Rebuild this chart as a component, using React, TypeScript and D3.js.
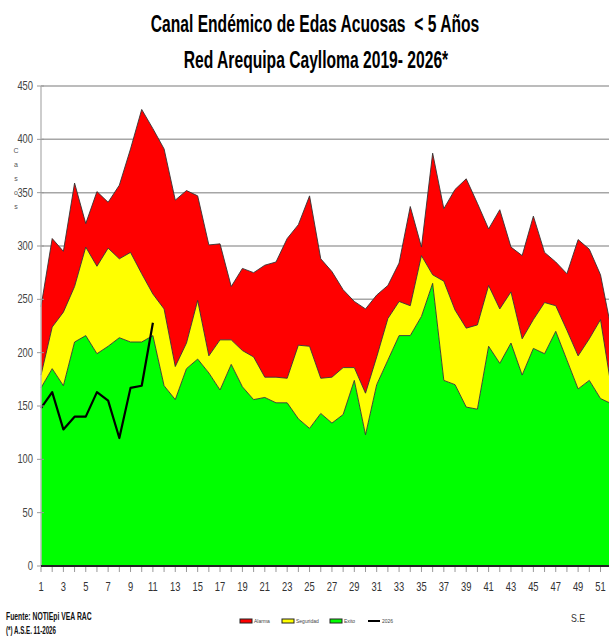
import React from 'react';
import * as d3 from 'd3';

// semanas epidemiologicas 1..52
const semanas = d3.range(1, 53);
const alarma = [243, 307, 295, 359, 321, 351, 341, 357, 391, 428, 410, 391, 343, 352, 347, 301, 302, 262, 279, 275, 282, 285, 307, 320, 347, 288, 276, 259, 248, 241, 254, 263, 284, 337, 299, 387, 335, 353, 363, 340, 316, 334, 299, 291, 328, 294, 285, 274, 306, 297, 273, 220];
const seguridad = [179, 224, 238, 262, 299, 281, 298, 288, 294, 274, 255, 241, 187, 209, 249, 197, 212, 212, 202, 196, 177, 177, 176, 207, 206, 176, 177, 186, 186, 162, 196, 232, 248, 244, 291, 273, 267, 240, 223, 226, 263, 241, 257, 213, 231, 247, 244, 221, 197, 213, 231, 165];
const exito = [167, 185, 169, 210, 216, 199, 206, 214, 210, 210, 216, 169, 156, 185, 194, 181, 165, 189, 168, 156, 158, 153, 153, 138, 129, 143, 134, 142, 174, 123, 170, 193, 216, 216, 234, 265, 174, 170, 149, 147, 206, 190, 209, 179, 204, 199, 220, 193, 166, 174, 157, 152];
const casos2026 = [148, 163, 128, 140, 140, 163, 155, 120, 167, 169, 228];
const yTicks = [0, 50, 100, 150, 200, 250, 300, 350, 400, 450];
const xLabels = d3.range(1, 52, 2);

const W = 609;
const H = 636;
const font = "'Liberation Sans', Arial, sans-serif";

// texto angosto (no hay Arial Narrow instalada)
const Narrow = ({ x, y, sx = 0.75, anchor = 'start', size, bold = false, fill = '#333', children }: any) => (
  <text
    transform={`translate(${x},${y}) scale(${sx},1)`}
    textAnchor={anchor}
    fontFamily={font}
    fontSize={size}
    fontWeight={bold ? 'bold' : 'normal'}
    fill={fill}
  >
    {children}
  </text>
);

const App = () => {
  const x = d3.scaleLinear().domain([1, 52]).range([41, 41 + 51 * 11.19]);
  const y = d3.scaleLinear().domain([0, 450]).range([566, 86]);

  const band = (lo: (i: number) => number, hi: (i: number) => number) =>
    d3.area<number>()
      .x(d => x(d))
      .y0((d, i) => y(lo(i)))
      .y1((d, i) => y(hi(i)))(semanas) || '';

  const topLine = (vals: number[]) =>
    d3.line<number>().x(d => x(d)).y((d, i) => y(vals[i]))(semanas) || '';

  const line2026 = d3.line<number>()
    .x((d, i) => x(i + 1))
    .y(d => y(d))(casos2026) || '';

  const legend = [
    { label: 'Alarma', color: '#ff0000', x: 240 },
    { label: 'Seguridad', color: '#ffff00', x: 282 },
    { label: 'Exito', color: '#00ff00', x: 330 },
  ];

  return (
    <svg width={W} height={H} style={{ position: 'absolute', left: 0, top: 0, background: '#fff' }}>
      <Narrow x={315} y={32} sx={0.68} anchor="middle" size={23} bold fill="#000">
        Canal Endémico de Edas Acuosas{'\u00a0\u00a0'}&lt; 5 Años
      </Narrow>
      <Narrow x={316} y={68} sx={0.68} anchor="middle" size={23} bold fill="#000">
        Red Arequipa Caylloma 2019- 2026*
      </Narrow>

      {/* grid */}
      {yTicks.filter(t => t > 0).map(t => (
        <line key={t} x1={x(1)} x2={W} y1={y(t)} y2={y(t)} stroke="#a6a6a6" strokeWidth={1.5} />
      ))}

      {/* areas */}
      <path d={band(() => 0, i => exito[i])} fill="#00ff00" />
      <path d={band(i => exito[i], i => seguridad[i])} fill="#ffff00" />
      <path d={band(i => seguridad[i], i => alarma[i])} fill="#ff0000" />
      <path d={topLine(exito)} fill="none" stroke="#333" strokeWidth={0.9} />
      <path d={topLine(seguridad)} fill="none" stroke="#333" strokeWidth={0.9} />
      <path d={topLine(alarma)} fill="none" stroke="#333" strokeWidth={0.9} />
      <path d={line2026} fill="none" stroke="#000" strokeWidth={2.2} strokeLinejoin="round" />

      {/* y axis */}
      <line x1={x(1)} x2={x(1)} y1={y(450)} y2={y(0)} stroke="#bdbdbd" strokeWidth={1.5} />
      {yTicks.map(t => (
        <g key={t}>
          <line x1={37} x2={44} y1={y(t)} y2={y(t)} stroke="#999" />
          <Narrow x={33} y={y(t) + 4} sx={0.78} anchor="end" size={12} fill="#444">{t}</Narrow>
        </g>
      ))}
      {'Casos'.split('').map((c, i) => (
        <text key={i} x={16} y={153 + i * 14} textAnchor="middle" fontFamily={font} fontSize={7} fill="#555">{c}</text>
      ))}

      {/* x axis */}
      <line x1={x(1)} x2={W} y1={y(0)} y2={y(0)} stroke="#222" strokeWidth={2} />
      {semanas.map(s => (
        <line key={s} x1={x(s)} x2={x(s)} y1={y(0) + 1} y2={y(0) + 6} stroke="#999" />
      ))}
      {xLabels.map(s => (
        <Narrow key={s} x={x(s)} y={591} sx={0.78} anchor="middle" size={12} fill="#333">{s}</Narrow>
      ))}
      <Narrow x={578} y={622} sx={0.8} anchor="middle" size={11} fill="#333">S.E</Narrow>

      {/* footer */}
      <Narrow x={6} y={620} sx={0.62} size={11} bold fill="#111">Fuente: NOTIEpi VEA RAC</Narrow>
      <Narrow x={6} y={634} sx={0.62} size={10} bold fill="#111">(*) A.S.E. 11-2026</Narrow>

      {/* legend */}
      {legend.map(l => (
        <g key={l.label}>
          <rect x={l.x} y={619} width={12} height={4} fill={l.color} stroke="#222" strokeWidth={1} />
          <text x={l.x + 14} y={623} fontFamily={font} fontSize={5} fill="#444">{l.label}</text>
        </g>
      ))}
      <line x1={368} x2={380} y1={621} y2={621} stroke="#000" strokeWidth={2} />
      <text x={382} y={623} fontFamily={font} fontSize={5} fill="#444">2026</text>
    </svg>
  );
};

export default App;
